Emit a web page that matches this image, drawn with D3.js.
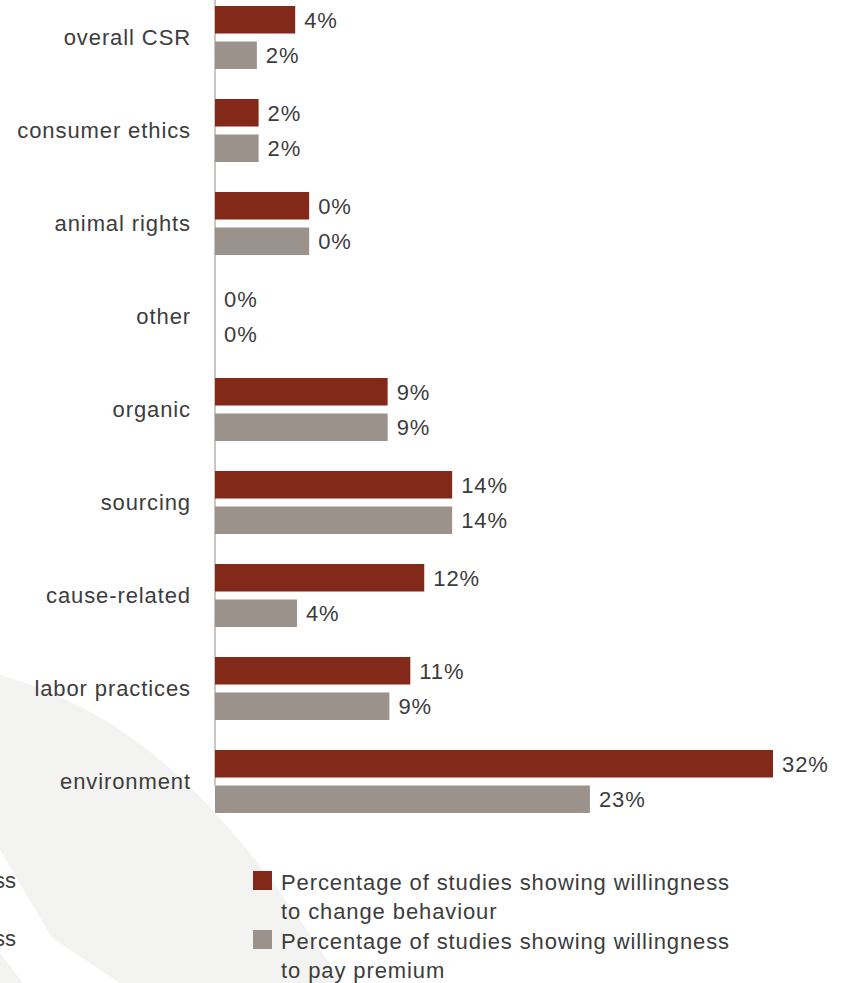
<!DOCTYPE html>
<html>
<head>
<meta charset="utf-8">
<script src="https://cdn.jsdelivr.net/npm/d3@7"></script>
<style>
  html, body { margin: 0; padding: 0; background: #ffffff; }
  svg { display: block; }
  text { font-family: "Liberation Sans", Arial, Helvetica, sans-serif; fill: #3c3c3c; }
</style>
</head>
<body>
<svg id="chart" width="844" height="983"></svg>
<script>
// ---- data ----
const categories = ["overall CSR", "consumer ethics", "animal rights", "other", "organic",
                    "sourcing", "cause-related", "labor practices", "environment"];
// bar lengths as drawn in the picture (in % units)
const changeValues  = [4.6, 2.5, 5.4, 0, 9.9, 13.6, 12.0, 11.2, 32.0];
const premiumValues = [2.4, 2.5, 5.4, 0, 9.9, 13.6, 4.7, 10.0, 21.5];
// value labels as printed
const changeLabels  = ["4%", "2%", "0%", "0%", "9%", "14%", "12%", "11%", "32%"];
const premiumLabels = ["2%", "2%", "0%", "0%", "9%", "14%", "4%", "9%", "23%"];
const seriesKeys = ["change", "premium"];
const legendLines = [
  ["Percentage of studies showing willingness", "to change behaviour"],
  ["Percentage of studies showing willingness", "to pay premium"]
];
const leftCutLabels = ["willingness", "willingness"];

// ---- styles ----
const colors = { change: "#83291a", premium: "#9b928b" };
const fontSize = 22;
const letterSp = "0.9px";

const svg = d3.select("#chart");

// background swoosh
svg.append("path")
  .attr("d", "M0,675 C125,712 215,785 342,983 L120,983 L52,938 L0,850 Z")
  .attr("fill", "#f3f3f2");
svg.append("path")
  .attr("d", "M0,953 L23,983 L0,983 Z")
  .attr("fill", "#f3f3f2");

// scales
const x = d3.scaleLinear().domain([0, 32]).range([215, 773]);
const y = d3.scaleBand().domain(categories).range([6, 813]).paddingInner(30 / 93).paddingOuter(0);
const y1 = d3.scaleBand().domain(seriesKeys).range([0, y.bandwidth()]).paddingInner(0.225).paddingOuter(0);

const rows = categories.map((c, i) => ({
  cat: c,
  change: changeValues[i], premium: premiumValues[i],
  changeLabel: changeLabels[i], premiumLabel: premiumLabels[i]
}));

// axis line
svg.append("line")
  .attr("x1", x(0)).attr("x2", x(0))
  .attr("y1", 0).attr("y2", y("environment") + y1("premium"))
  .attr("stroke", "#cbc5c1").attr("stroke-width", 2);

// category labels
svg.append("g").selectAll("text")
  .data(rows).join("text")
  .attr("x", 191)
  .attr("y", d => y(d.cat) + y.bandwidth() / 2 + 7)
  .attr("text-anchor", "end")
  .attr("font-size", fontSize)
  .style("letter-spacing", letterSp)
  .text(d => d.cat);

// bars + value labels
const groups = svg.append("g").selectAll("g")
  .data(rows).join("g")
  .attr("transform", d => `translate(0,${y(d.cat)})`);

groups.selectAll("rect")
  .data(d => seriesKeys.map(k => ({ key: k, value: d[k] })))
  .join("rect")
  .attr("x", x(0))
  .attr("y", d => y1(d.key))
  .attr("width", d => x(d.value) - x(0))
  .attr("height", y1.bandwidth())
  .attr("fill", d => colors[d.key]);

groups.selectAll("text")
  .data(d => seriesKeys.map(k => ({ key: k, value: d[k], label: d[k + "Label"] })))
  .join("text")
  .attr("x", d => x(d.value) + 9)
  .attr("y", d => y1(d.key) + y1.bandwidth() / 2 + 8)
  .attr("font-size", fontSize)
  .style("letter-spacing", letterSp)
  .text(d => d.label);

// legend
const legend = svg.append("g");
seriesKeys.forEach((k, i) => {
  const top = 871 + i * 59;
  legend.append("rect")
    .attr("x", 253).attr("y", top).attr("width", 19).attr("height", 19)
    .attr("fill", colors[k]);
  legendLines[i].forEach((line, j) => {
    legend.append("text")
      .attr("x", 281).attr("y", top + 19 + j * 29)
      .attr("font-size", fontSize)
      .style("letter-spacing", letterSp)
      .text(line);
  });
});

// cut-off text at left edge (from a neighbouring panel, cropped in the original)
svg.append("g").selectAll("text")
  .data(leftCutLabels).join("text")
  .attr("x", 16)
  .attr("y", (d, i) => 888 + i * 58)
  .attr("text-anchor", "end")
  .attr("font-size", fontSize)
  .text(d => d);
</script>
</body>
</html>
